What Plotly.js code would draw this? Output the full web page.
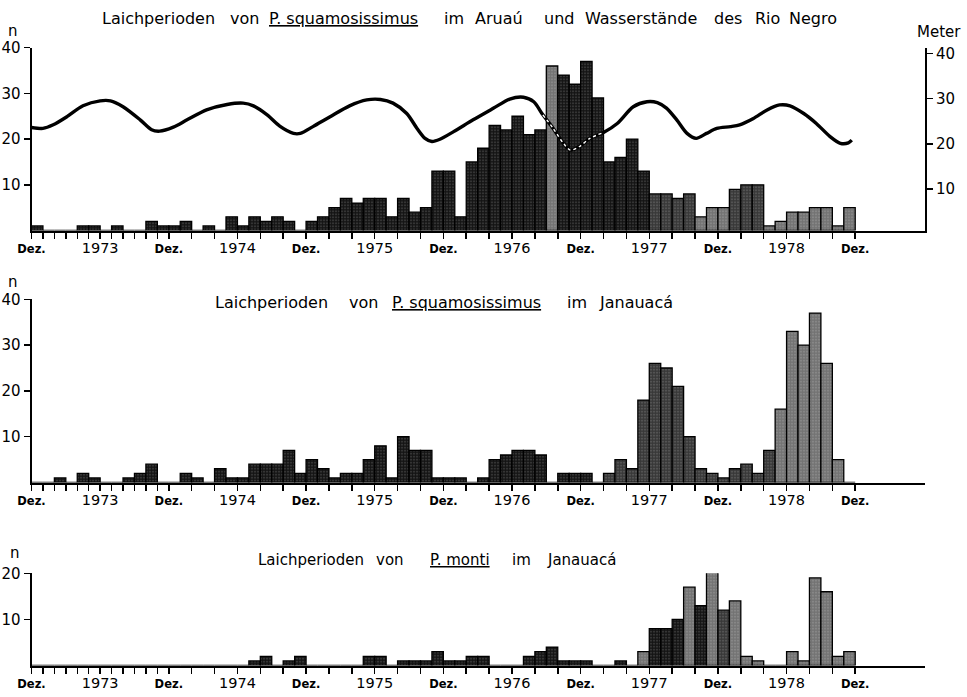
<!DOCTYPE html>
<html>
<head>
<meta charset="utf-8">
<script src="https://cdn.plot.ly/plotly-3.0.1.min.js"></script>
<style>
  html, body { margin: 0; padding: 0; background: #fff; }
  #chart { width: 967px; height: 697px; }
</style>
</head>
<body>
<div id="chart"></div>
<script>
// Monthly spawning counts, index 0 = Dez. 1972 ... 71 = Nov. 1978
const monthLabel = 'Dez.';
const yearLabels = ['1973', '1974', '1975', '1976', '1977', '1978'];

// P. squamosissimus, Aruaú
const aruauN = [
  1, 0, 0, 0, 1, 1, 0, 1, 0, 0, 2, 1,
  1, 2, 0, 1, 0, 3, 1, 3, 2, 3, 2, 0,
  2, 3, 5, 7, 6, 7, 7, 3, 7, 4, 5, 13,
  13, 3, 15, 18, 23, 22, 25, 21, 22, 36, 34, 32,
  37, 29, 15, 16, 20, 13, 8, 8, 7, 8, 3, 5,
  5, 9, 10, 10, 1, 2, 4, 4, 5, 5, 1, 5
];

// P. squamosissimus, Janauacá
const janauacaSquamN = [
  0, 0, 1, 0, 2, 1, 0, 0, 1, 2, 4, 0,
  0, 2, 1, 0, 3, 1, 1, 4, 4, 4, 7, 2,
  5, 3, 1, 2, 2, 5, 8, 1, 10, 7, 7, 1,
  1, 1, 0, 1, 5, 6, 7, 7, 6, 0, 2, 2,
  2, 0, 2, 5, 3, 18, 26, 25, 21, 10, 3, 2,
  1, 3, 4, 2, 7, 16, 33, 30, 37, 26, 5, 0
];

// P. monti, Janauacá
const janauacaMontiN = [
  0, 0, 0, 0, 0, 0, 0, 0, 0, 0, 0, 0,
  0, 0, 0, 0, 0, 0, 0, 1, 2, 0, 1, 2,
  0, 0, 0, 0, 0, 2, 2, 0, 1, 1, 1, 3,
  1, 1, 2, 2, 0, 0, 0, 2, 3, 4, 1, 1,
  1, 0, 0, 1, 0, 3, 8, 8, 10, 17, 13, 21,
  12, 14, 2, 1, 0, 0, 3, 1, 19, 16, 2, 3
];

// Rio Negro water level (months after Dez. 1972, metres)
const pegelMonat = [
  0.0, 1.0, 1.9, 3.1, 4.5, 6.0, 6.9, 8.0, 9.5, 10.5, 11.2, 12.4,
  13.6, 15.3, 17.1, 18.5, 19.4, 20.6, 21.7, 22.9, 23.5, 24.6, 26.1, 27.8,
  29.3, 30.5, 31.6, 32.8, 33.7, 34.4, 35.0, 35.7, 36.9, 38.6, 40.4, 41.8,
  43.0, 43.9, 44.7, 45.6, 46.5, 47.1, 47.9, 48.8, 50.0, 51.2, 52.6, 53.8,
  54.7, 55.5, 56.4, 57.3, 58.1, 59.0, 59.9, 61.1, 61.9, 63.1, 64.3, 65.4,
  66.3, 67.5, 68.6, 69.8, 70.7, 71.4, 71.7
];
const pegelMeter = [
  23.6, 23.4, 24.2, 26.0, 28.4, 29.5, 29.5, 28.2, 25.3, 23.1, 22.8, 23.7,
  25.3, 27.5, 28.7, 29.0, 28.4, 26.4, 23.9, 22.3, 22.3, 23.8, 26.0, 28.4,
  29.7, 29.8, 29.0, 26.7, 23.4, 21.2, 20.5, 21.0, 22.7, 25.3, 27.9, 29.9,
  30.3, 29.3, 26.4, 23.4, 20.1, 18.6, 19.4, 21.2, 22.5, 24.5, 28.2, 29.3,
  29.1, 27.9, 25.3, 22.3, 21.2, 22.3, 23.4, 23.8, 24.2, 25.6, 27.5, 28.6,
  28.4, 26.7, 24.5, 21.6, 20.1, 20.2, 20.8
];

// ---------- layout helpers ----------
const W = 967, H = 697;
const px = x => x / W;
const py = y => 1 - y / H;
const FONT = 'DejaVu Sans, Liberation Sans, sans-serif';
const INK = '#000';

const monthX = aruauN.map((_, i) => i + 0.5);   // bar centred inside its month

// month ticks: every month in the first year, then every second month
const tickVals = [];
for (let m = 0; m <= 72; m += (m < 12 ? 1 : 2)) tickVals.push(m);
const tickText = tickVals.map(m => {
  if (m % 12 === 0) return "<span style='font-size:11.5px;font-weight:bold'>" + monthLabel + "</span>";
  if (m % 12 === 6) return yearLabels[(m - 6) / 12];
  return '';
});

function shade(n, mid, grey) {
  return n.map((_, i) => grey.includes(i) ? '#737373' : (mid.includes(i) ? '#383838' : '#141414'));
}

function bars(values, xa, ya, mid, grey) {
  return {
    type: 'bar', x: monthX, y: values, xaxis: xa, yaxis: ya, width: 1,
    marker: {
      color: shade(values, mid, grey),
      line: { color: INK, width: 1.3 },
      pattern: { shape: '.', fillmode: 'overlay', fgcolor: '#ffffff', fgopacity: 0.35, size: 3, solidity: 0.15 }
    },
    hoverinfo: 'skip', showlegend: false
  };
}

// white trace of the water level where it runs through the tall 1976 bars
const inBars = pegelMonat.map((m, i) => (m >= 44.7 && m <= 50.0) ? i : -1).filter(i => i >= 0);

const traces = [
  bars(aruauN, 'x', 'y', [54, 55, 56, 57, 61, 62, 63], [45, 58, 59, 60, 64, 65, 66, 67, 68, 69, 70, 71]),
  {
    type: 'scatter', mode: 'lines', x: pegelMonat, y: pegelMeter, xaxis: 'x', yaxis: 'y2',
    line: { color: INK, width: 3.4, shape: 'spline', smoothing: 0.8 },
    hoverinfo: 'skip', showlegend: false
  },
  {
    type: 'scatter', mode: 'lines', x: inBars.map(i => pegelMonat[i]), y: inBars.map(i => pegelMeter[i]),
    xaxis: 'x', yaxis: 'y2',
    line: { color: '#ffffff', width: 1.4, dash: 'dot', shape: 'spline', smoothing: 0.8 },
    hoverinfo: 'skip', showlegend: false
  },
  bars(janauacaSquamN, 'x2', 'y3', [50, 51, 52, 53, 54, 55, 56, 57, 58, 59, 60, 61, 62, 63, 64], [65, 66, 67, 68, 69, 70]),
  bars(janauacaMontiN, 'x3', 'y4', [60], [53, 57, 59, 61, 62, 63, 66, 67, 68, 69, 70, 71])
];

function xAxis(anchor) {
  return {
    domain: [px(31.5), px(925)], range: [0, 78.1], anchor: anchor,
    showline: true, linecolor: INK, linewidth: 2,
    ticks: 'outside', ticklen: 6, tickwidth: 1.5, tickcolor: INK,
    tickmode: 'array', tickvals: tickVals, ticktext: tickText,
    tickfont: { family: FONT, size: 14.5, color: INK }, tickangle: 0,
    ticklabelstandoff: -3,
    showgrid: false, zeroline: false, fixedrange: true
  };
}

function yAxis(anchor, top, bottom, max, vals, extra) {
  return Object.assign({
    domain: [py(bottom), py(top)], range: [0, max], anchor: anchor,
    showline: true, linecolor: INK, linewidth: 2,
    ticks: 'outside', ticklen: 6, tickwidth: 1.5, tickcolor: INK,
    tickmode: 'array', tickvals: vals, ticktext: vals.map(String),
    tickfont: { family: FONT, size: 15, color: INK },
    showgrid: false, zeroline: false, fixedrange: true
  }, extra || {});
}

function words(y, list, size) {
  return list.map(([t, x]) => ({
    text: t, x: px(x), y: py(y), xref: 'paper', yref: 'paper',
    xanchor: 'left', yanchor: 'middle', showarrow: false,
    font: { family: FONT, size: size || 16, color: INK }
  }));
}

function label(t, x, y, size) {
  return {
    text: t, x: px(x), y: py(y), xref: 'paper', yref: 'paper',
    xanchor: 'center', yanchor: 'middle', showarrow: false,
    font: { family: FONT, size: size, color: INK }
  };
}

const annotations = [].concat(
  words(19, [['Laichperioden', 100], ['von', 228], ['<u>P. squamosissimus</u>', 267], ['im', 442],
             ['Aruaú', 473], ['und', 542], ['Wasserstände', 583], ['des', 712], ['Rio', 753], ['Negro', 787]]),
  words(302, [['Laichperioden', 213], ['von', 347], ['<u>P. squamosissimus</u>', 390], ['im', 565], ['Janauacá', 597]]),
  words(560, [['Laichperioden', 256], ['von', 374], ['<u>P. monti</u>', 428], ['im', 510], ['Janauacá', 545]], 15),
  [label('n', 13, 31, 15), label('n', 13, 282, 15), label('n', 15, 553, 15), label('Meter', 939, 32, 15)]
);

const layout = {
  width: W, height: H,
  margin: { l: 0, r: 0, t: 0, b: 0 },
  paper_bgcolor: '#fff', plot_bgcolor: 'rgba(0,0,0,0)',
  bargap: 0, barmode: 'overlay',
  font: { family: FONT, color: INK },
  xaxis: xAxis('y'),
  xaxis2: xAxis('y3'),
  xaxis3: xAxis('y4'),
  yaxis: yAxis('x', 47.7, 230.5, 40, [10, 20, 30, 40]),
  yaxis2: yAxis('x', 47.7, 230.5, 40, [10, 20, 30, 40], { overlaying: 'y', side: 'right', range: [0.82, 41.26] }),
  yaxis3: yAxis('x2', 299.3, 482.5, 40, [10, 20, 30, 40]),
  yaxis4: yAxis('x3', 573.3, 665.5, 20, [10, 20]),
  annotations: annotations
};

Plotly.newPlot('chart', traces, layout, { staticPlot: true, displayModeBar: false });
</script>
</body>
</html>
